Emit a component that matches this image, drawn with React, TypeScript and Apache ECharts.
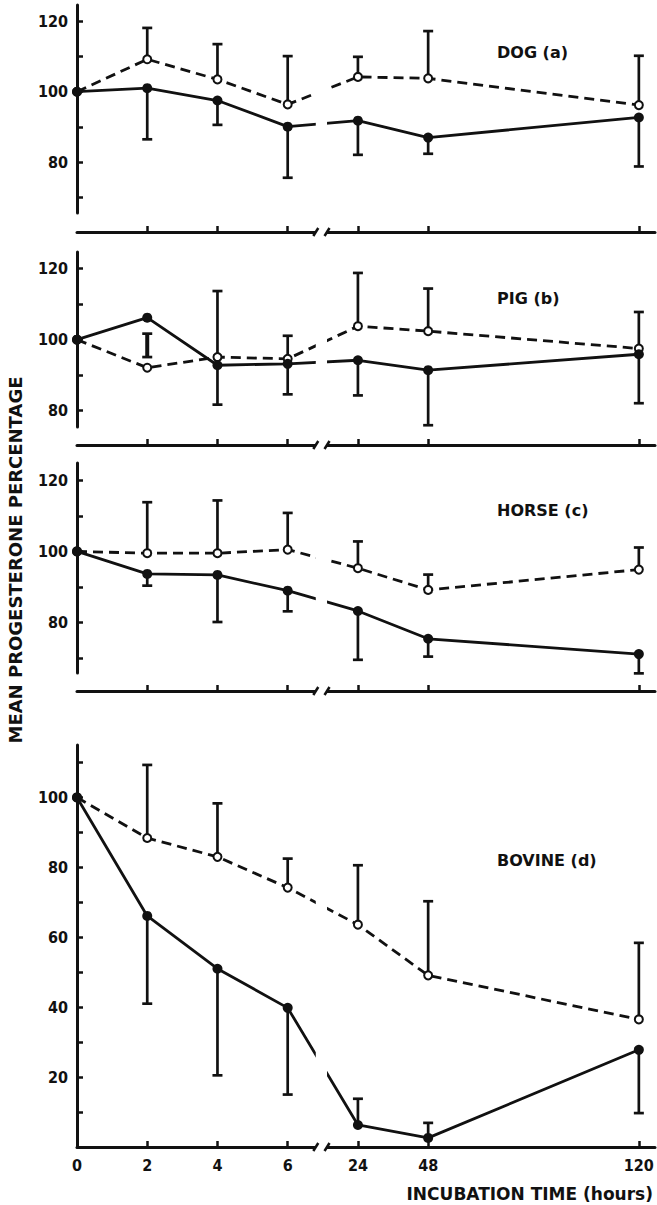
import React, { useEffect, useRef } from "react";
import * as echarts from "echarts";

// Incubation times (hours) and their slot on the broken time axis
const HOURS = ["0", "2", "4", "6", "24", "48", "120"];
const AXIS_SLOT = [0, 1, 2, 3, 4, 5, 8];

// DOG (a)
const DOG_FILLED = [100, 101, 97.5, 90.1, 91.8, 87, 92.7];
const DOG_FILLED_ERR = [null, 86.5, 90.6, 75.6, 82.1, 82.4, 78.8];
const DOG_OPEN = [100, 109.2, 103.5, 96.4, 104.2, 103.8, 96.2];
const DOG_OPEN_ERR = [null, 118.1, 113.5, 110.1, 109.9, 117.2, 110.2];
const DOG_Y_TICKS = [70, 80, 90, 100, 110, 120];
const DOG_Y_LABELS = [80, 100, 120];

// PIG (b)
const PIG_FILLED = [100, 106.2, 92.8, 93.2, 94.2, 91.4, 95.9];
const PIG_FILLED_ERR = [null, null, 81.7, 84.6, 84.3, 75.9, 82.1];
const PIG_OPEN = [100, 92.1, 95.1, 94.6, 103.8, 102.4, 97.5];
const PIG_OPEN_ERR = [null, null, 113.7, 101.1, 118.8, 114.4, 107.8];
const PIG_BAR_2H = [95.1, 101.7];
const PIG_Y_TICKS = [80, 90, 100, 110, 120];
const PIG_Y_LABELS = [80, 100, 120];

// HORSE (c)
const HORSE_FILLED = [100, 93.7, 93.4, 89.0, 83.3, 75.5, 71.2];
const HORSE_FILLED_ERR = [null, 90.4, 80.2, 83.2, 69.6, 70.5, 65.8];
const HORSE_OPEN = [100, 99.5, 99.5, 100.5, 95.3, 89.2, 94.9];
const HORSE_OPEN_ERR = [null, 113.8, 114.3, 110.8, 102.8, 93.5, 101.1];
const HORSE_Y_TICKS = [70, 80, 90, 100, 110, 120];
const HORSE_Y_LABELS = [80, 100, 120];

// BOVINE (d)
const BOVINE_FILLED = [100, 66.1, 51.0, 39.8, 6.3, 2.6, 27.8];
const BOVINE_FILLED_ERR = [null, 41.0, 20.5, 15.0, 13.8, 6.9, 9.7];
const BOVINE_OPEN = [100, 88.4, 83.0, 74.2, 63.6, 49.1, 36.5];
const BOVINE_OPEN_ERR = [null, 109.3, 98.3, 82.5, 80.6, 70.3, 58.4];
const BOVINE_Y_TICKS = [10, 20, 30, 40, 50, 60, 70, 80, 90, 100, 110];
const BOVINE_Y_LABELS = [20, 40, 60, 80, 100];

const TITLES = ["DOG (a)", "PIG (b)", "HORSE (c)", "BOVINE (d)"];
const Y_TITLE = "MEAN PROGESTERONE PERCENTAGE";
const X_TITLE = "INCUBATION TIME (hours)";

const INK = "#111";
const FONT = "'DejaVu Sans', 'Liberation Sans', sans-serif";
const NUM_FONT = "'DejaVu Sans Condensed', 'DejaVu Sans', sans-serif";

const X_MAX = 8.23;
const BREAK_FROM = 3.4;
const BREAK_TO = 3.56;

const LAYOUT = [
  { top: 5, height: 208, offset: 19, min: 65.6, max: 124.6 },
  { top: 252, height: 175, offset: 18, min: 75.4, max: 124.7 },
  { top: 463, height: 210, offset: 18, min: 65.9, max: 124.8 },
  { top: 745, height: 402, offset: 0, min: 0, max: 115 },
];

const PANELS = [
  { filled: DOG_FILLED, filledErr: DOG_FILLED_ERR, open: DOG_OPEN, openErr: DOG_OPEN_ERR, ticks: DOG_Y_TICKS, labels: DOG_Y_LABELS, extra: [] as number[][] },
  { filled: PIG_FILLED, filledErr: PIG_FILLED_ERR, open: PIG_OPEN, openErr: PIG_OPEN_ERR, ticks: PIG_Y_TICKS, labels: PIG_Y_LABELS, extra: [[1, PIG_BAR_2H[0], PIG_BAR_2H[1], 1]] },
  { filled: HORSE_FILLED, filledErr: HORSE_FILLED_ERR, open: HORSE_OPEN, openErr: HORSE_OPEN_ERR, ticks: HORSE_Y_TICKS, labels: HORSE_Y_LABELS, extra: [] as number[][] },
  { filled: BOVINE_FILLED, filledErr: BOVINE_FILLED_ERR, open: BOVINE_OPEN, openErr: BOVINE_OPEN_ERR, ticks: BOVINE_Y_TICKS, labels: BOVINE_Y_LABELS, extra: [] as number[][] },
];

function errData(vals: number[], errs: (number | null)[]) {
  const out: number[][] = [];
  vals.forEach((v, i) => {
    const e = errs[i];
    if (e !== null && e !== undefined) out.push([AXIS_SLOT[i], v, e, 0]);
  });
  return out;
}

function renderErr(params: any, api: any) {
  const x = api.value(0);
  const a = api.coord([x, api.value(1)]);
  const b = api.coord([x, api.value(2)]);
  const both = api.value(3) === 1;
  const st = { stroke: INK, lineWidth: 2.7 };
  const children: any[] = [
    { type: "line", shape: { x1: a[0], y1: a[1], x2: b[0], y2: b[1] }, style: both ? { stroke: INK, lineWidth: 4 } : st },
    { type: "line", shape: { x1: b[0] - 5, y1: b[1], x2: b[0] + 5, y2: b[1] }, style: st },
  ];
  if (both) children.push({ type: "line", shape: { x1: a[0] - 5, y1: a[1], x2: a[0] + 5, y2: a[1] }, style: st });
  return { type: "group", children };
}

export default function App() {
  const ref = useRef<HTMLDivElement>(null);
  useEffect(() => {
    if (!ref.current) return;
    const chart = echarts.init(ref.current, null, { renderer: "svg" });
    const grid: any[] = [];
    const xAxis: any[] = [];
    const yAxis: any[] = [];
    const series: any[] = [];
    PANELS.forEach((p, i) => {
      const L = LAYOUT[i];
      const last = i === PANELS.length - 1;
      grid.push({ left: 77, right: 2, top: L.top, height: L.height });
      xAxis.push({
        type: "value", gridIndex: i, min: 0, max: X_MAX, offset: L.offset,
        splitLine: { show: false },
        axisLine: { show: true, onZero: false, lineStyle: { color: INK, width: 3 } },
        axisTick: { show: true, inside: true, length: 6, customValues: AXIS_SLOT.slice(1), lineStyle: { color: INK, width: 2.5 } },
        axisLabel: {
          show: last, customValues: AXIS_SLOT, margin: 10,
          formatter: (v: number) => HOURS[AXIS_SLOT.indexOf(v)] ?? "",
          color: INK, fontFamily: NUM_FONT, fontWeight: "bold", fontSize: 16,
        },
      });
      yAxis.push({
        type: "value", gridIndex: i, min: L.min, max: L.max,
        splitLine: { show: false },
        axisLine: { show: true, onZero: false, lineStyle: { color: INK, width: 3 } },
        axisTick: { show: true, inside: true, length: 6, customValues: p.ticks, lineStyle: { color: INK, width: 2.5 } },
        axisLabel: { customValues: p.labels, margin: 9, color: INK, fontFamily: NUM_FONT, fontWeight: "bold", fontSize: 16 },
      });
      series.push({
        type: "custom", xAxisIndex: i, yAxisIndex: i, z: 1, clip: false,
        renderItem: renderErr,
        data: [...errData(p.filled, p.filledErr), ...errData(p.open, p.openErr), ...p.extra],
      });
      series.push({
        type: "line", xAxisIndex: i, yAxisIndex: i, z: 3,
        data: p.open.map((v, k) => [AXIS_SLOT[k], v]),
        symbol: "circle", symbolSize: 8,
        itemStyle: { color: "#fff", borderColor: INK, borderWidth: 2 },
        lineStyle: { color: INK, width: 2.8, type: [10, 6] },
      });
      series.push({
        type: "line", xAxisIndex: i, yAxisIndex: i, z: 4,
        data: p.filled.map((v, k) => [AXIS_SLOT[k], v]),
        symbol: "circle", symbolSize: 10,
        itemStyle: { color: INK },
        lineStyle: { color: INK, width: 2.8 },
      });
    });
    chart.setOption({
      animation: false,
      backgroundColor: "#fff",
      textStyle: { fontFamily: FONT },
      grid, xAxis, yAxis, series,
    });

    const graphic: any[] = [];
    LAYOUT.forEach((L, i) => {
      const xa = chart.convertToPixel({ gridIndex: i } as any, [BREAK_FROM, L.min])[0];
      const xb = chart.convertToPixel({ gridIndex: i } as any, [BREAK_TO, L.min])[0];
      const axisY = L.top + L.height + L.offset;
      graphic.push({
        type: "rect", z: 100,
        shape: { x: xa, y: L.top - 4, width: xb - xa, height: axisY + 5 - (L.top - 4) },
        style: { fill: "#fff" },
      });
      [xa, xb].forEach((x) => {
        graphic.push({
          type: "line", z: 101,
          shape: { x1: x - 2.5, y1: axisY + 4, x2: x + 2.5, y2: axisY - 4 },
          style: { stroke: INK, lineWidth: 2.5 },
        });
      });
      graphic.push({
        type: "text", z: 102, x: 497, y: [52, 298, 510, 860][i],
        style: { text: TITLES[i], fill: INK, font: `bold 16px ${FONT}`, align: "left", verticalAlign: "middle" },
      });
    });
    graphic.push({
      type: "text", z: 102, x: 15, y: 560, rotation: Math.PI / 2,
      style: { text: Y_TITLE, fill: INK, font: `bold 18px ${FONT}`, align: "center", verticalAlign: "middle" },
    });
    graphic.push({
      type: "text", z: 102, x: 653, y: 1194,
      style: { text: X_TITLE, fill: INK, font: `bold 17px ${FONT}`, align: "right", verticalAlign: "middle" },
    });
    chart.setOption({ graphic });
    return () => chart.dispose();
  }, []);
  return (
    <div
      ref={ref}
      style={{ position: "absolute", left: 0, top: 0, width: 657, height: 1205, background: "#fff" }}
    />
  );
}
